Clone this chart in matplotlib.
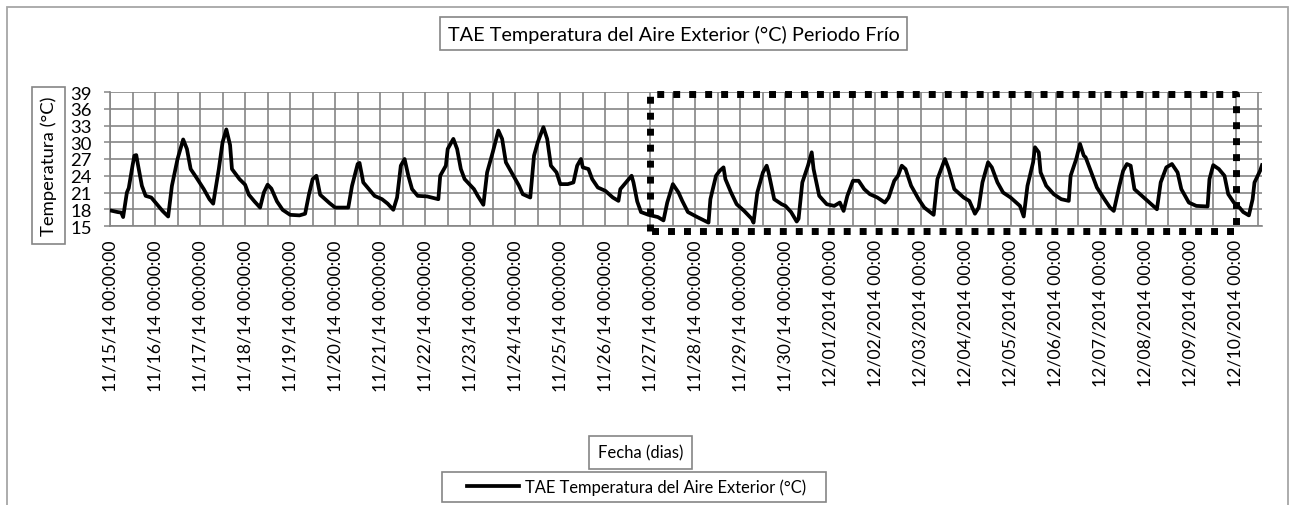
import matplotlib
matplotlib.use("Agg")
import matplotlib.pyplot as plt
import matplotlib.patches as mpatches

plt.rcParams['font.family'] = ['Lato', 'DejaVu Sans']

# horas desde 11/15/14 00:00 y temperatura del aire exterior (°C)
horas = [0, 4, 6, 7, 9, 10, 12, 13, 14, 15, 17, 19, 22, 25, 28, 31, 33, 36, 39, 41,
         43, 46, 50, 53, 55, 58, 60, 62, 64, 65, 69, 72, 74, 77, 80, 82, 84, 86, 89, 92,
         96, 101, 104, 106, 108, 110, 112, 115, 117, 120, 127, 129, 132, 133, 135, 138,
         141, 145, 148, 151, 153, 155, 157, 159, 161, 164, 169, 175, 176, 179, 180, 183,
         185, 187, 189, 194, 196, 199, 201, 204, 207, 209, 211, 215, 218, 220, 224, 226,
         228, 231, 233, 235, 238, 240, 244, 247, 249, 251, 252, 255, 257, 260, 264, 268,
         271, 272, 275, 278, 279, 281, 283, 287, 292, 295, 297, 300, 303, 305, 308, 313,
         319, 320, 323, 325, 327, 328, 331, 334, 338, 342, 343, 345, 348, 350, 351, 354,
         358, 360, 363, 366, 367, 369, 372, 374, 375, 378, 382, 386, 389, 391, 393, 396,
         399, 402, 405, 409, 413, 415, 418, 420, 422, 424, 427, 431, 434, 439, 441, 445,
         447, 450, 455, 458, 461, 463, 465, 468, 470, 473, 476, 480, 485, 487, 489, 492,
         493, 495, 496, 499, 503, 507, 511, 512, 515, 517, 519, 520, 523, 526, 530, 533,
         535, 538, 540, 542, 544, 546, 550, 554, 558, 560, 563, 566, 569, 571, 575, 579,
         585, 586, 588, 591, 594, 596, 599, 602, 604, 607, 609, 610, 613, 614]
temperatura = [17.8, 17.5, 17.4, 16.6, 21.0, 21.8, 25.8, 27.6, 27.7, 25.8, 22.2, 20.4, 20.1,
               18.9, 17.7, 16.7, 22.2, 27.0, 30.5, 28.8, 25.2, 23.7, 21.6, 19.8, 19.0, 25.2,
               30.0, 32.3, 29.5, 25.2, 23.4, 22.4, 20.6, 19.4, 18.3, 21.0, 22.4, 21.7, 19.4,
               17.9, 17.0, 16.9, 17.2, 20.6, 23.4, 24.0, 20.6, 19.7, 19.1, 18.3, 18.3, 22.2,
               26.1, 26.3, 22.8, 21.6, 20.4, 19.8, 19.0, 17.9, 20.1, 25.8, 27.0, 24.0, 21.6,
               20.4, 20.3, 19.8, 24.0, 25.8, 28.8, 30.6, 28.8, 25.2, 23.4, 21.6, 20.4, 18.8,
               24.6, 28.2, 32.1, 30.6, 26.4, 24.0, 22.2, 20.7, 20.1, 27.6, 30.0, 32.7, 30.6,
               25.8, 24.6, 22.5, 22.5, 22.8, 25.8, 27.0, 25.5, 25.2, 23.4, 21.9, 21.3, 20.1,
               19.5, 21.6, 22.8, 24.0, 22.8, 19.4, 17.5, 17.0, 16.6, 16.0, 19.2, 22.5, 21.0,
               19.5, 17.5, 16.6, 15.6, 19.8, 24.0, 24.9, 25.5, 23.4, 21.0, 18.9, 17.7, 16.3,
               15.6, 21.0, 24.6, 25.8, 24.6, 19.8, 18.9, 18.6, 17.5, 15.8, 16.3, 22.8, 25.8,
               28.2, 25.2, 20.4, 18.9, 18.6, 19.2, 17.7, 20.4, 23.1, 23.1, 21.6, 20.7, 20.1,
               19.2, 20.1, 23.1, 24.0, 25.8, 25.2, 22.2, 19.8, 18.3, 17.0, 23.4, 27.0, 25.2,
               21.6, 20.1, 19.5, 17.2, 18.3, 22.8, 26.4, 25.5, 22.8, 21.0, 20.1, 18.6, 16.7,
               22.2, 26.4, 29.1, 28.2, 24.6, 22.2, 20.7, 19.8, 19.5, 24.0, 27.0, 29.7, 27.6,
               27.3, 24.6, 21.9, 19.8, 18.3, 17.7, 22.2, 24.9, 26.1, 25.8, 21.6, 20.4, 19.2,
               18.0, 22.8, 25.5, 26.1, 24.6, 21.6, 19.2, 18.6, 18.5, 23.4, 25.9, 25.2, 24.0,
               20.7, 19.2, 18.3, 17.5, 16.9, 19.8, 22.8, 24.9, 25.9]

etiquetas = ['11/15/14 00:00:00', '11/16/14 00:00:00', '11/17/14 00:00:00',
             '11/18/14 00:00:00', '11/19/14 00:00:00', '11/20/14 00:00:00',
             '11/21/14 00:00:00', '11/22/14 00:00:00', '11/23/14 00:00:00',
             '11/24/14 00:00:00', '11/25/14 00:00:00', '11/26/14 00:00:00',
             '11/27/14 00:00:00', '11/28/14 00:00:00', '11/29/14 00:00:00',
             '11/30/14 00:00:00', '12/01/2014 00:00', '12/02/2014 00:00',
             '12/03/2014 00:00', '12/04/2014 00:00', '12/05/2014 00:00',
             '12/06/2014 00:00', '12/07/2014 00:00', '12/08/2014 00:00',
             '12/09/2014 00:00', '12/10/2014 00:00']
y_ticks = [15, 18, 21, 24, 27, 30, 33, 36, 39]

# periodo frio marcado con recuadro punteado (horas)
frio_inicio = 288
frio_fin = 600

W, H = 1295, 506
fig = plt.figure(figsize=(W / 100, H / 100), dpi=100)
ax = fig.add_axes([110 / W, 1 - 227 / H, (1262 - 110) / W, 134 / H])

gris = '#858585'
ax.plot(horas, temperatura, color='black', lw=2.7, solid_joinstyle='round',
        label='TAE Temperatura del Aire Exterior (°C)', zorder=3)

ax.set_xlim(0, 614)
ax.set_ylim(15, 39)
ax.set_yticks(y_ticks)
ax.set_xticks([24 * i for i in range(len(etiquetas))])
ax.set_xticklabels(etiquetas, rotation=90, va='top', ha='center', fontsize=12.7)
ax.set_xticks([12 * i for i in range(52)], minor=True)
ax.tick_params(axis='x', which='both', length=0, pad=9.5)
ax.tick_params(axis='y', length=4, width=1.1, color=gris, labelsize=13.3, pad=9)
ax.grid(True, which='both', color=gris, lw=1.2)
ax.grid(False, axis='y', which='minor')
for s in ['top', 'right']:
    ax.spines[s].set_visible(False)
for s in ['left', 'bottom']:
    ax.spines[s].set_color(gris)
    ax.spines[s].set_linewidth(1.2)

# recuadro punteado
ax.plot([frio_inicio, frio_inicio, frio_fin, frio_fin, frio_inicio],
        [14.15, 38.65, 38.65, 14.15, 14.15], color='black', lw=5,
        linestyle=(0, (1.0, 1.3)), clip_on=False, zorder=4)

caja = dict(boxstyle='square,pad=0.4', fc='white', ec=gris, lw=1.2)
fig.text(673.5 / W, 1 - 34.5 / H, 'TAE Temperatura del Aire Exterior (°C) Periodo Frío',
         ha='center', va='center', fontsize=14.3, bbox=caja)
fig.text(48.5 / W, 1 - 166.5 / H, 'Temperatura (°C)', rotation=90,
         ha='center', va='center', fontsize=13.3,
         bbox=dict(boxstyle='square,pad=0.45', fc='white', ec=gris, lw=1.2))
fig.text(640.5 / W, 1 - 453.5 / H, 'Fecha (dias)', ha='center', va='center',
         fontsize=12, bbox=dict(boxstyle='square,pad=0.5', fc='white', ec=gris, lw=1.2))

leg = ax.legend(loc='center', bbox_to_anchor=(636.5 / W, 1 - 488 / H),
                bbox_transform=fig.transFigure, frameon=False, fontsize=11.9,
                handlelength=3.1, handletextpad=0.36)
fig.patches.append(mpatches.Rectangle((442 / W, 1 - 503 / H), 384 / W, 30 / H,
                                      transform=fig.transFigure, fill=False,
                                      ec=gris, lw=1.2))
# borde exterior del grafico
fig.patches.append(mpatches.Rectangle((7 / W, -0.05), 1281 / W, 1.05 - 8 / H,
                                      transform=fig.transFigure, fill=False,
                                      ec='#a6a6a6', lw=1.3))

fig.savefig('out.png', dpi=100)
